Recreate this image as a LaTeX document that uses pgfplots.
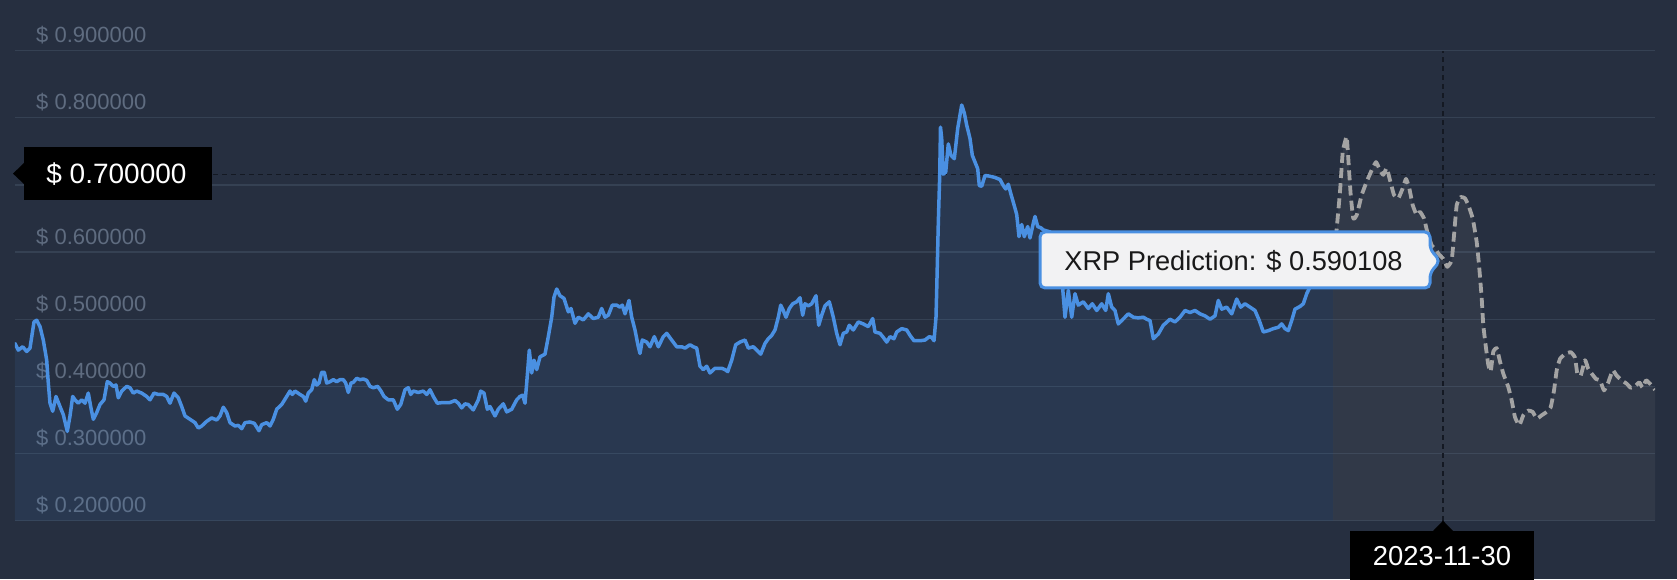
\documentclass[border=0pt]{standalone}
\usepackage{pgfplots}
\usepackage{pgfplotstable}
\pgfplotsset{compat=1.18}
\usepackage{fontspec}
\setmainfont{Liberation Sans}
\definecolor{bg}{HTML}{262F40}
\definecolor{gridc}{HTML}{354153}
\definecolor{ticklbl}{HTML}{5F6C80}
\definecolor{xrpblue}{HTML}{4A90E2}
\definecolor{predgray}{HTML}{A3A3A3}
\definecolor{cross}{HTML}{141923}
\definecolor{tipbg}{HTML}{F2F2F3}

\pgfplotstableread{
x y
15 0.464
18.3 0.454
22.7 0.459
26.7 0.452
30 0.457
34 0.496
36.7 0.4985
40 0.489
43.3 0.469
46.7 0.439
48.3 0.405
50 0.375
52.7 0.363
56 0.385
60 0.370
63.3 0.358
67.3 0.333
70 0.356
72.7 0.385
75 0.380
78.3 0.375
81.7 0.380
85 0.375
88.3 0.390
90.7 0.370
93.3 0.351
96.7 0.361
100 0.373
104 0.380
107.3 0.407
110 0.405
113.3 0.400
116 0.402
118.3 0.383
121.7 0.393
126.7 0.400
130 0.398
133.3 0.390
136.7 0.393
141.7 0.390
146.7 0.385
150 0.380
154 0.390
158.3 0.388
163.3 0.388
166.7 0.385
170 0.375
174 0.390
178.3 0.383
181.7 0.370
185 0.356
190 0.351
195 0.346
198.3 0.338
201.7 0.341
206.7 0.348
211.7 0.353
216.7 0.350
220 0.356
223.3 0.369
226.7 0.361
230 0.346
235 0.341
238.3 0.342
241.7 0.337
245 0.346
250 0.347
254.3 0.345
259 0.334
261.7 0.343
266.7 0.346
270 0.341
273.3 0.351
276.7 0.366
281.7 0.373
286.7 0.385
290 0.393
292.3 0.388
295 0.393
300 0.388
303.3 0.385
305.7 0.378
308.3 0.390
311.7 0.395
314.3 0.410
316.7 0.402
319 0.405
321.7 0.421
324.3 0.421
326.7 0.405
330 0.407
333.3 0.410
336.7 0.407
340 0.410
343.3 0.410
345.7 0.405
348.3 0.391
351 0.405
353.3 0.406
356.7 0.412
360 0.410
363.3 0.411
366.7 0.409
370 0.400
373.3 0.398
377.7 0.400
381 0.393
384 0.385
388.3 0.380
393.3 0.380
397.3 0.366
400.7 0.373
405 0.395
408.3 0.398
410.7 0.388
413.3 0.393
418.3 0.391
423.3 0.393
426.7 0.388
430 0.395
433.3 0.385
437.3 0.375
443.3 0.376
450 0.376
455 0.379
458.3 0.375
461.7 0.368
465 0.374
468.3 0.373
473.3 0.365
478.3 0.380
480.7 0.393
484 0.390
487.3 0.366
490 0.370
495 0.356
498.3 0.366
503.3 0.374
506.7 0.362
511.7 0.366
516.7 0.380
520 0.385
522.7 0.387
525 0.375
526.7 0.405
529.3 0.454
531.7 0.420
534 0.439
536.7 0.425
540 0.444
545 0.448
548.3 0.474
551.7 0.503
554 0.533
556.7 0.545
560 0.535
564 0.531
568.3 0.511
571 0.516
575 0.494
578.3 0.503
583.3 0.499
588.3 0.508
593.3 0.501
598.3 0.503
601.7 0.516
605 0.503
608.3 0.506
612.3 0.521
616.7 0.521
620 0.518
622.3 0.521
625 0.508
629 0.528
631.7 0.503
635 0.484
638.3 0.459
640 0.449
642.3 0.469
646.7 0.466
650 0.459
654.3 0.474
658.3 0.459
663.3 0.474
666.7 0.479
671.7 0.469
676.7 0.459
681.7 0.459
685 0.457
690 0.462
693.3 0.459
696.7 0.457
700 0.430
703.3 0.425
706.7 0.430
710 0.420
715 0.427
721.7 0.427
725 0.425
727.7 0.422
731.7 0.439
735.7 0.462
740 0.466
745 0.469
748.3 0.457
753.3 0.459
756.7 0.454
760.7 0.448
765 0.464
768.3 0.471
771.7 0.476
775 0.484
778.3 0.503
780.7 0.521
783.3 0.513
786 0.503
789.3 0.516
792.7 0.523
796.7 0.526
800 0.532
802.7 0.506
805 0.523
808.3 0.520
811.7 0.523
816 0.535
818.7 0.491
821.7 0.506
825 0.520
829.3 0.526
833.3 0.503
836.7 0.479
840 0.462
843.3 0.479
846.7 0.481
849.3 0.491
853.3 0.484
858.3 0.496
863.3 0.493
868.3 0.489
872.7 0.501
875 0.481
880 0.479
883.3 0.473
886.7 0.466
890 0.474
894 0.471
896.7 0.481
901.7 0.486
906.7 0.484
910 0.476
914 0.468
920 0.468
925 0.469
929.3 0.474
931.7 0.473
934 0.468
936 0.503
936.7 0.543
938.3 0.643
939.7 0.714
940.5 0.786
941.7 0.769
943.3 0.716
945.7 0.719
948.3 0.761
951 0.744
954.3 0.739
957.7 0.784
961.7 0.819
964.3 0.807
966.7 0.789
970 0.769
972.3 0.744
975 0.734
977.7 0.724
979.3 0.699
981.7 0.698
985 0.714
990 0.713
995 0.711
1000 0.708
1003.3 0.699
1005.7 0.694
1008.3 0.701
1011 0.686
1014.3 0.669
1016.7 0.656
1019 0.623
1021.7 0.641
1024.3 0.623
1027.7 0.638
1030 0.621
1033.3 0.643
1035 0.653
1037.7 0.638
1041 0.636
1043.3 0.633
1050 0.630
1056 0.620
1060 0.600
1063 0.540
1065 0.503
1068.3 0.543
1071.7 0.503
1075 0.538
1078.3 0.521
1083.3 0.526
1088.3 0.516
1092.3 0.523
1096.7 0.513
1101.7 0.523
1105.7 0.513
1108.3 0.538
1111.7 0.518
1115 0.513
1118.3 0.493
1121.7 0.498
1125 0.503
1128.3 0.508
1133.3 0.503
1138.3 0.502
1143.3 0.503
1146.7 0.500
1150 0.498
1153.3 0.471
1158.3 0.478
1163.3 0.491
1170 0.500
1175 0.496
1180 0.503
1185 0.513
1190 0.510
1195 0.513
1200 0.508
1205 0.505
1210 0.500
1215 0.505
1218.3 0.528
1221.7 0.515
1226.7 0.518
1231.7 0.508
1236.7 0.530
1240.7 0.518
1245 0.523
1250 0.518
1255 0.513
1259.3 0.498
1263.3 0.481
1268.3 0.483
1273.3 0.486
1278.3 0.488
1281.7 0.493
1285 0.486
1288.3 0.483
1291.7 0.498
1295 0.515
1300 0.519
1303.3 0.523
1306.7 0.538
1310 0.548
1316.7 0.552
1322 0.560
1327 0.556
1333 0.575
}\histdata

\pgfplotstableread{
x y
1333 0.575
1336.7 0.635
1340 0.690
1342.7 0.749
1345 0.764
1346.7 0.772
1348.3 0.739
1350.7 0.685
1353.3 0.650
1356.7 0.655
1361.7 0.685
1366.7 0.705
1371.7 0.722
1376 0.734
1380 0.722
1383.3 0.715
1386.7 0.725
1390 0.707
1394 0.685
1398.3 0.680
1402.7 0.695
1406 0.709
1409.3 0.695
1412.7 0.670
1416.7 0.655
1420 0.660
1424 0.650
1427.3 0.630
1431.7 0.610
1435 0.605
1439.3 0.596
1443.3 0.590
1447.3 0.578
1451.7 0.588
1454 0.625
1456.7 0.670
1460.7 0.682
1465 0.680
1468.3 0.670
1472.7 0.650
1476.7 0.615
1479.3 0.576
1481.7 0.531
1483.3 0.491
1486 0.457
1488.3 0.432
1490.7 0.422
1493.3 0.452
1496.7 0.457
1500 0.437
1503.3 0.419
1508.3 0.399
1511.7 0.379
1515 0.354
1519.3 0.342
1523.3 0.357
1528.3 0.364
1532.7 0.362
1536.7 0.352
1541.7 0.357
1546.7 0.362
1550.7 0.369
1554 0.394
1556.7 0.424
1560 0.441
1565 0.448
1570.7 0.451
1575 0.443
1577.3 0.419
1580.7 0.416
1585 0.439
1588.3 0.426
1591.7 0.419
1596 0.411
1600 0.409
1604 0.394
1608.3 0.406
1612.7 0.424
1616.7 0.416
1621.7 0.409
1626.7 0.404
1630.7 0.398
1635 0.400
1639.3 0.406
1642.7 0.398
1646 0.409
1650 0.404
1655 0.395
}\preddata

\begin{document}
\begin{tikzpicture}
\fill[bg] (0,0) rectangle (838.5pt,289.5pt);
\begin{axis}[
  at={(7.5pt,29.15pt)}, anchor=south west,
  scale only axis, width=820pt, height=235.05pt,
  xmin=15, xmax=1655, ymin=0.2, ymax=0.9,
  axis line style={draw=none},
  xtick=\empty,
  ytick={0.2,0.3,0.4,0.5,0.6,0.7,0.8,0.9},
  yticklabels={\$ 0.200000,\$ 0.300000,\$ 0.400000,\$ 0.500000,\$ 0.600000,{},\$ 0.800000,\$ 0.900000},
  major tick length=0pt,
  tick style={draw=none},
  ymajorgrids,
  grid style={color=gridc, line width=0.6pt},
  yticklabel style={anchor=base west, inner sep=0pt, xshift=10.4pt, yshift=3.9pt,
    font=\fontsize{11}{13}\selectfont, text=ticklbl},
]
\addplot[draw=none, fill=xrpblue, fill opacity=0.10] table {\histdata} \closedcycle;
\addplot[draw=none, fill=predgray, fill opacity=0.09] table {\preddata} \closedcycle;
\draw[cross, line width=0.6pt, dash pattern=on 2.5pt off 2pt] (axis cs:15,0.7153) -- (axis cs:1655,0.7153);
\draw[cross, line width=0.6pt, dash pattern=on 2.5pt off 2pt] (axis cs:1443,0.2) -- (axis cs:1443,0.9);
\addplot[xrpblue, line width=1.75pt, line join=round, line cap=round] table {\histdata};
\addplot[predgray, line width=1.9pt, line join=round, dash pattern=on 5pt off 2.6pt, smooth, tension=0.25] table {\preddata};
\end{axis}
\begin{scope}[shift={(0pt,289.5pt)}, x=0.5pt, y=-0.5pt]
  % y crosshair label
  \fill[black] (23.6,147) rectangle (212,200.5);
  \fill[black] (24,163) -- (13,173.6) -- (24,184) -- cycle;
  \node[anchor=west, inner sep=0pt, text=white, font=\fontsize{14}{16}\selectfont] at (46,174.5) {\$ 0.700000};
  % x crosshair label
  \fill[black] (1350,530.6) rectangle (1534,580);
  \fill[black] (1433,531) -- (1443,520.7) -- (1453,531) -- cycle;
  \node[inner sep=0pt, text=white, font=\fontsize{13.7}{16}\selectfont] at (1442,556) {2023-11-30};
  % tooltip
  \path[fill=tipbg, draw=xrpblue, line width=1.5pt, rounded corners=2.5pt]
    (1040,232) -- (1430,232) -- (1430,249) -- (1440,261) -- (1430,273) -- (1430,288) -- (1040,288) -- cycle;
  \node[anchor=west, inner sep=0pt, text=black!90, font=\fontsize{13.6}{16}\selectfont] at (1064,261) {XRP Prediction: \$ 0.590108};
\end{scope}
\pgfresetboundingbox
\path (0,0) rectangle (838.5pt,289.5pt);
\end{tikzpicture}
\end{document}
